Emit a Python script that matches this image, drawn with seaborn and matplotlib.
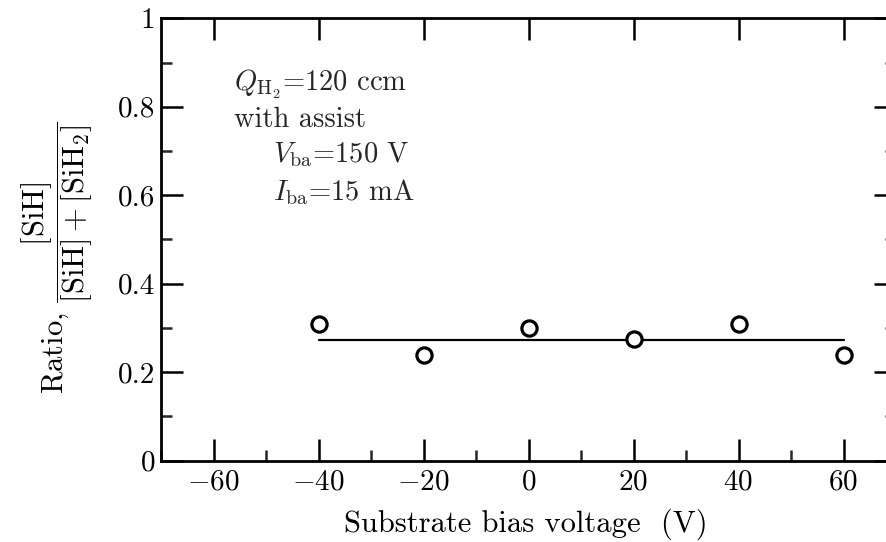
import numpy as np
import pandas as pd
import matplotlib
matplotlib.use("Agg")
import matplotlib.pyplot as plt
from matplotlib.ticker import FixedLocator, FixedFormatter, MultipleLocator
import seaborn as sns

# ---- data ----
bias_voltage = [-40, -20, 0, 20, 40, 60]
ratio = [0.31, 0.24, 0.30, 0.276, 0.31, 0.24]
fit_x = [-40, 60]
fit_y = [0.272, 0.272]
xtick_values = [-60, -40, -20, 0, 20, 40, 60]
xtick_labels = ["-60", "-40", "-20", "0", "20", "40", "60"]
ytick_values = [0, 0.2, 0.4, 0.6, 0.8, 1.0]
ytick_labels = ["0", "0.2", "0.4", "0.6", "0.8", "1"]

sns.set_theme(style="ticks")
plt.rcParams["font.family"] = ["cmr10", "DejaVu Serif"]
plt.rcParams["mathtext.fontset"] = "cm"
plt.rcParams["axes.unicode_minus"] = False
plt.rcParams["axes.formatter.use_mathtext"] = True

df = pd.DataFrame({"x": bias_voltage, "y": ratio})
fit = pd.DataFrame({"x": fit_x, "y": fit_y})

W, H = 886, 542
left, right, bottom, top = 161, 896, 460.7, 18.3
fig = plt.figure(figsize=(W / 100, H / 100), dpi=100)
ax = fig.add_axes([left / W, 1 - bottom / H, (right - left) / W, (bottom - top) / H])

sns.lineplot(data=fit, x="x", y="y", ax=ax, color="black", linewidth=1.6)
sns.scatterplot(data=df, x="x", y="y", ax=ax, marker="o", s=120,
                facecolor="white", edgecolor="black", linewidth=2.3, zorder=5)

ax.set_xlim(-70, 70)
ax.set_ylim(0, 1)

for s in ax.spines.values():
    s.set_linewidth(2.0)
    s.set_color("black")

ax.xaxis.set_major_locator(FixedLocator(xtick_values))
ax.xaxis.set_major_formatter(FixedFormatter([f"${t}$" for t in xtick_labels]))
ax.xaxis.set_minor_locator(MultipleLocator(10))
ax.yaxis.set_major_locator(FixedLocator(ytick_values))
ax.yaxis.set_major_formatter(FixedFormatter(ytick_labels))
ax.yaxis.set_minor_locator(MultipleLocator(0.1))

ax.tick_params(which="major", direction="in", length=16, width=1.8,
               labelsize=21, colors="black", top=True, right=True)
ax.tick_params(which="minor", direction="in", length=8, width=1.8,
               top=False, right=True, bottom=True, left=True)
ax.tick_params(axis="x", which="major", pad=6)
ax.tick_params(axis="y", which="major", pad=4)

ax.set_xlabel("Substrate bias voltage  (V)", fontsize=22, color="black")
ax.xaxis.set_label_coords(0.497, -0.108)
ax.xaxis.label.set_va("top")
ax.set_ylabel(r"Ratio, $\dfrac{[\mathrm{SiH}]}{[\mathrm{SiH}]+[\mathrm{SiH}_2]}$",
              fontsize=22, color="black")
ax.yaxis.set_label_coords(-0.09, 0.46)

fs = 20.5
ax.text(0.100, 0.850, r"$Q_{\mathrm{H}_2}$=120 ccm", transform=ax.transAxes,
        fontsize=fs, va="center", ha="left")
ax.text(0.100, 0.771, "with assist", transform=ax.transAxes,
        fontsize=fs, va="center", ha="left")
ax.text(0.152, 0.692, r"$V_{\mathrm{ba}}$=150 V", transform=ax.transAxes,
        fontsize=fs, va="center", ha="left")
ax.text(0.152, 0.608, r"$I_{\mathrm{ba}}$=15 mA", transform=ax.transAxes,
        fontsize=fs, va="center", ha="left")

fig.savefig("out.png", dpi=100)
